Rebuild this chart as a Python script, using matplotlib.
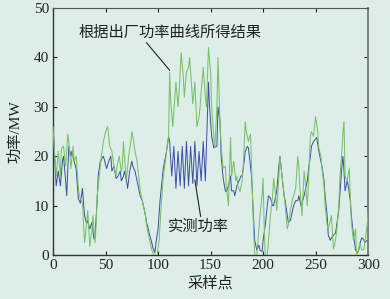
import matplotlib
matplotlib.use("Agg")
import matplotlib.pyplot as plt

plt.rcParams['font.family'] = ['Liberation Serif', 'Noto Sans CJK SC', 'DejaVu Sans']

# measured power (blue) waypoints: sample index, MW
meas_x = [0, 1, 3, 5, 7, 9, 10, 12, 13, 15, 17, 18, 20, 22, 24, 26, 28, 30, 32, 33,
          35, 37, 39, 40, 42, 43, 45, 48, 51, 53, 55, 56, 58, 60, 62, 64, 65, 67, 68, 70,
          71, 73, 75, 76, 78, 79, 81, 83, 85, 86, 88, 89, 91, 92, 94, 95, 97, 98, 100, 102,
          105, 108, 110, 111, 113, 115, 117, 119, 121, 123, 125, 127, 129, 131, 133, 135, 137, 139, 141, 143,
          145, 147, 148, 149, 151, 153, 155, 156, 157, 159, 160, 162, 164, 165, 167, 169, 170, 172, 173, 175,
          177, 179, 180, 182, 183, 185, 186, 188, 189, 191, 192, 194, 196, 197, 199, 200, 202, 204, 205, 207,
          209, 210, 212, 213, 215, 216, 218, 220, 221, 223, 224, 226, 227, 229, 231, 233, 234, 236, 237, 239,
          240, 242, 243, 245, 246, 248, 251, 253, 254, 256, 258, 259, 261, 262, 264, 265, 267, 269, 270, 272,
          274, 275, 276, 277, 278, 280, 281, 283, 284, 286, 288, 290, 291, 293, 294, 296, 297, 299, 300]
meas_y = [27, 22, 14, 17, 14, 19, 20, 15, 12, 22, 20, 21, 19, 17.5, 11.5, 10.5, 13.5, 8, 6.3, 7,
          5.3, 6.6, 3.2, 4, 11, 16, 19, 20, 17.5, 19, 20, 17, 18, 15.5, 16, 17, 15, 16, 17, 15,
          13.5, 17, 19, 18, 17, 16, 14, 12, 11, 10, 8, 6.6, 5, 4, 2.5, 1.5, 0.5, 2.5, 5.3, 11.4,
          17.6, 21, 24, 23, 16, 22, 13.5, 21, 14, 22, 13.5, 23, 14, 22, 14.5, 23, 14, 21, 15, 23,
          15, 28, 35, 30, 24, 21.7, 22, 22, 30, 27, 20, 15.5, 13, 12.8, 14, 16, 13, 13, 12, 14,
          15, 16, 16, 19, 21, 22, 21.7, 18, 16, 7, 3, 1, 2, 1, 0.7, 3, 6, 10, 12, 11.5,
          10, 10, 12, 13, 18, 20, 16, 12, 11, 8, 6.6, 7, 8, 10, 11, 11, 12, 10, 10.5, 12,
          13, 15, 17, 20, 22, 23, 23.8, 21, 20, 18, 15, 12, 8, 4, 3, 3.5, 4, 4.5, 6, 9,
          15, 18, 20, 17, 13, 15, 14, 11, 8, 4, 1, 0.5, 1, 3, 3.5, 3, 2.5, 3, 3]

# result from factory power curve (green) waypoints
curve_x = [0, 1, 3, 5, 7, 8, 10, 12, 14, 15, 17, 19, 20, 22, 24, 25, 27, 28, 30, 32,
           33, 35, 37, 38, 40, 41, 42, 44, 46, 48, 50, 52, 54, 56, 58, 60, 61, 63, 65, 66,
           67, 69, 70, 72, 74, 75, 76, 78, 80, 82, 83, 85, 86, 88, 89, 91, 93, 94, 96, 99,
           101, 103, 105, 107, 108, 110, 111, 112, 114, 116, 117, 119, 120, 122, 124, 125, 127, 129, 130, 132,
           133, 135, 137, 139, 140, 141, 143, 145, 146, 148, 150, 151, 153, 154, 156, 157, 158, 159, 160, 162,
           164, 165, 167, 169, 170, 172, 174, 175, 176, 178, 180, 181, 183, 184, 186, 188, 189, 191, 192, 194,
           196, 197, 199, 200, 201, 202, 204, 205, 207, 209, 210, 212, 213, 215, 216, 218, 219, 221, 223, 224,
           226, 228, 229, 231, 233, 234, 235, 237, 239, 240, 242, 243, 245, 246, 248, 250, 252, 253, 255, 256,
           258, 259, 261, 262, 264, 265, 267, 268, 270, 272, 273, 275, 276, 277, 278, 280, 282, 283, 284, 286,
           288, 289, 291, 292, 294, 296, 297, 299, 300]
curve_y = [26, 22, 16, 21, 16, 21.5, 22, 18, 24.5, 23, 17.5, 22, 19, 20, 14, 12, 11, 10.5, 2.5, 6.5,
           9, 1.8, 5, 8, 2.5, 6, 12, 16, 20, 23, 25, 26, 22, 21, 18, 16, 18, 20, 17, 18,
           23, 17, 15.5, 20, 23, 25, 24, 21, 19, 15, 13, 11, 10, 8, 6, 4, 2, 1, 0, 0,
           3, 10, 16, 19, 21, 24, 37, 31, 26, 32, 35, 30, 33, 41, 36, 32, 37, 38, 40, 34,
           30.6, 35, 26, 28, 30, 33, 38, 32, 30, 42, 37, 30, 24, 21.7, 30, 40, 33, 26.5, 22, 17.6,
           18, 14, 10, 23.8, 16, 19, 15, 16, 14, 12.8, 15, 17.6, 27, 25, 23, 24.5, 18, 4.6, 0, 0,
           5.3, 8, 12, 15.5, 6, 0, 0, 2.5, 8, 12, 15.5, 12, 9, 16, 20, 16, 14, 10, 5.3, 6,
           9, 11.4, 12, 13.5, 20, 18, 13.5, 8, 17, 15, 10, 14, 24, 25, 24, 28, 25, 21.7, 20, 17.6,
           14, 10, 6, 5.3, 7, 8, 1.2, 2, 4.6, 10, 15.5, 21, 25, 27, 16, 15, 17.6, 12, 6.6, 3,
           5.3, 0, 1, 2.5, 1, 1.2, 3, 6, 8.5]

x_ticks = [0, 50, 100, 150, 200, 250, 300]
y_ticks = [0, 10, 20, 30, 40, 50]

bg = '#ddeee9'
fig = plt.figure(figsize=(3.9, 2.99), dpi=100, facecolor=bg)
ax = fig.add_axes([0.136, 0.147, 0.808, 0.826], facecolor=bg)

ax.plot(meas_x, meas_y, color='#3b4f9f', lw=0.7, zorder=2)
ax.plot(curve_x, curve_y, color='#78c265', lw=0.75, zorder=3)

ax.set_xlim(0, 300)
ax.set_ylim(0, 50)
ax.set_xticks(x_ticks)
ax.set_yticks(y_ticks)
ax.tick_params(direction='in', top=True, right=True, length=3, width=0.8,
               labelsize=11, colors='#222222', pad=3)
for s in ['left', 'bottom']:
    ax.spines[s].set_color('#333333')
    ax.spines[s].set_linewidth(1.0)
ax.spines['top'].set_color('#555555')
ax.spines['top'].set_linewidth(0.8)
ax.spines['right'].set_color('#808080')
ax.spines['right'].set_linewidth(1.4)

ax.set_xlabel('采样点', fontsize=11, color='#222222', labelpad=3)
ax.set_ylabel('功率/MW', fontsize=11, color='#222222', labelpad=8)

ax.annotate('根据出厂功率曲线所得结果', xy=(111, 37.4), xytext=(24, 45),
            fontsize=11, color='#222222', va='center', ha='left',
            arrowprops=dict(arrowstyle='-', color='#222222', lw=0.8,
                            shrinkA=0, shrinkB=0, relpos=(0.36, 0.0)))
ax.annotate('实测功率', xy=(135, 15.2), xytext=(109, 5.8),
            fontsize=11, color='#222222', va='center', ha='left',
            arrowprops=dict(arrowstyle='-', color='#222222', lw=0.8,
                            shrinkA=0, shrinkB=0, relpos=(0.55, 1.0)))

fig.savefig('out.png', dpi=100, facecolor=bg)
